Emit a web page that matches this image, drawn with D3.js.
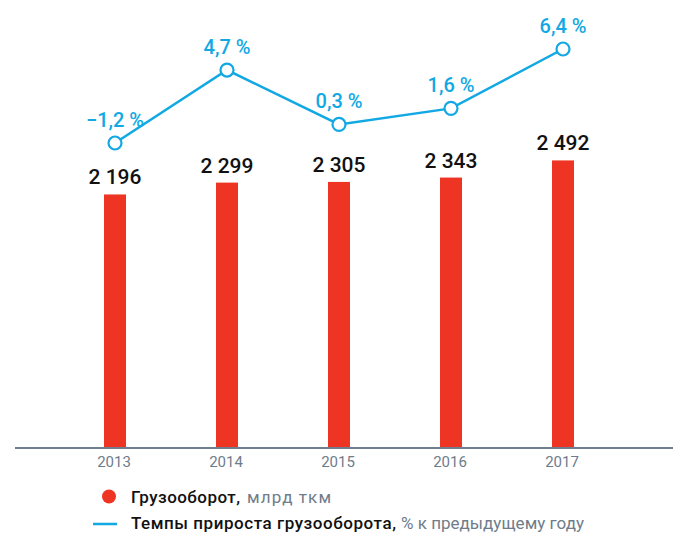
<!DOCTYPE html>
<html><head><meta charset="utf-8">
<script src="https://cdn.jsdelivr.net/npm/d3@7"></script>
<style>
body{margin:0;background:#fff;}
text{font-family:Roboto,"Noto Sans",sans-serif;}
</style></head>
<body><svg id="c" width="675" height="536"></svg>
<script>
const years = ["2013","2014","2015","2016","2017"];
const freight = [2196, 2299, 2305, 2343, 2492];
const freightLabels = ["2 196","2 299","2 305","2 343","2 492"];
const growth = [-1.2, 4.7, 0.3, 1.6, 6.4];
const growthLabels = ["−1,2 %","4,7 %","0,3 %","1,6 %","6,4 %"];

const svg = d3.select("#c");
const red = "#ee3524", blue = "#12a8e3", grey = "#6f7c8a", axisCol = "#3f556b";

const x = d3.scaleBand().domain(years).range([59, 619]).paddingInner(0).paddingOuter(0);
const cx = d => x(d) + x.bandwidth()/2;
const yBar = d3.scaleLinear().domain([0, 3000]).range([447, 102]);
const yLine = d3.scaleLinear().domain([-1.2, 6.4]).range([143, 49]);
const bw = 22;

// bars
svg.selectAll("rect.bar").data(years).enter().append("rect")
  .attr("x", d => cx(d) - bw/2)
  .attr("y", (d,i) => yBar(freight[i]))
  .attr("width", bw)
  .attr("height", (d,i) => yBar(0) - yBar(freight[i]))
  .attr("fill", red);

// bar labels
svg.selectAll("text.bl").data(years).enter().append("text")
  .attr("x", d => cx(d))
  .attr("y", (d,i) => yBar(freight[i]) - 10)
  .attr("text-anchor","middle")
  .attr("font-size", 21).attr("font-weight", 500)
  .attr("fill","#111")
  .text((d,i) => freightLabels[i]);

// axis
const axis = d3.axisBottom(x).tickSize(0).tickPadding(8);
const g = svg.append("g").attr("transform","translate(0,448)").call(axis);
g.select(".domain").remove();
g.selectAll("text").attr("font-size", 15).attr("fill", grey).attr("font-family","Roboto,sans-serif")
  .attr("dy", "0.72em").attr("dx", -1);
svg.append("line").attr("x1",15).attr("x2",673).attr("y1",448).attr("y2",448)
  .attr("stroke",axisCol).attr("stroke-width",1.5);

// line
const line = d3.line().x((d,i) => cx(years[i])).y(d => yLine(d));
svg.append("path").datum(growth).attr("d", line)
  .attr("fill","none").attr("stroke",blue).attr("stroke-width",2.5);
svg.selectAll("circle.pt").data(growth).enter().append("circle")
  .attr("cx",(d,i) => cx(years[i])).attr("cy", d => yLine(d)).attr("r",6.5)
  .attr("fill","#fff").attr("stroke",blue).attr("stroke-width",2.2);
svg.selectAll("text.gl").data(growth).enter().append("text")
  .attr("x",(d,i) => cx(years[i]))
  .attr("y", d => yLine(d) - 16)
  .attr("text-anchor","middle")
  .attr("font-size",20).attr("font-weight",500)
  .attr("fill",blue)
  .text((d,i) => growthLabels[i]);

// legend
svg.append("circle").attr("cx",109).attr("cy",496.5).attr("r",7).attr("fill",red);
svg.append("text").attr("x",131).attr("y",502.5).attr("font-size",17).attr("font-weight",500)
  .attr("fill","#111").attr("textLength",109).attr("lengthAdjust","spacing").text("Грузооборот,");
svg.append("text").attr("x",247).attr("y",502.5).attr("font-size",17)
  .attr("fill",grey).attr("textLength",84).attr("lengthAdjust","spacing").text("млрд ткм");
svg.append("line").attr("x1",93).attr("x2",117).attr("y1",524).attr("y2",524)
  .attr("stroke",blue).attr("stroke-width",2.5);
svg.append("text").attr("x",131).attr("y",528.5).attr("font-size",17).attr("font-weight",500)
  .attr("fill","#111").attr("textLength",265).attr("lengthAdjust","spacing").text("Темпы прироста грузооборота,");
svg.append("text").attr("x",401).attr("y",528.5).attr("font-size",17)
  .attr("fill",grey).attr("textLength",183).attr("lengthAdjust","spacing").text("% к предыдущему году");
</script></body></html>
